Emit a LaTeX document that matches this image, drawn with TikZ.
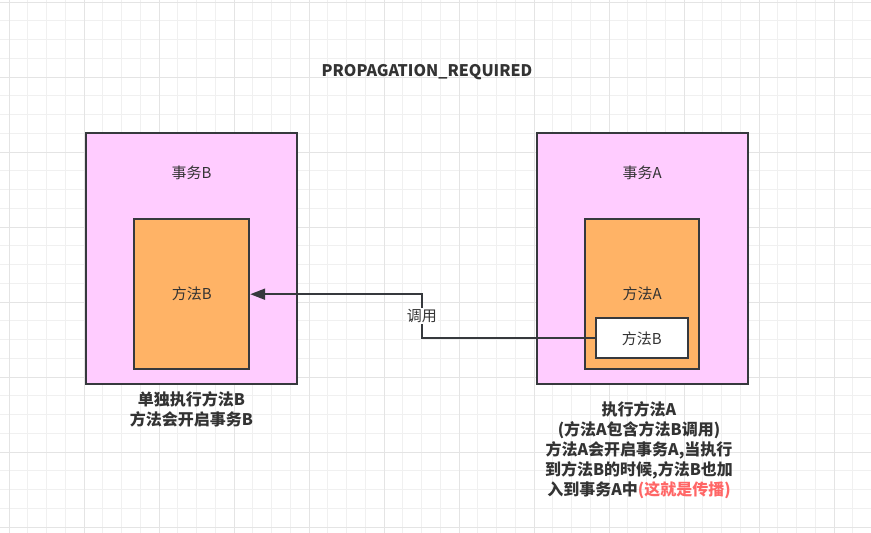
\documentclass[tikz,border=0pt]{standalone}
\usepackage{fontspec}
\setmainfont{Noto Sans CJK SC}
\usetikzlibrary{arrows.meta,positioning,calc}
\definecolor{ink}{HTML}{333333}
\definecolor{edge}{HTML}{36393D}
\definecolor{pinkfill}{HTML}{FFCCFF}
\definecolor{orangefill}{HTML}{FFB366}
\definecolor{hot}{HTML}{FF6666}
\definecolor{gridlo}{HTML}{F0F0F0}
\definecolor{gridhi}{HTML}{E4E4E4}
\tikzset{
  txn/.style={draw=edge,fill=pinkfill,line width=2pt,minimum width=211pt,minimum height=251pt,inner sep=0pt},
  method/.style={draw=edge,fill=#1,line width=2pt,inner sep=0pt,font=\fontsize{15}{18}\selectfont,text=ink},
  plain/.style={font=\fontsize{15}{18}\selectfont,text=ink,inner sep=1pt},
  note/.style={font=\fontsize{16}{20}\selectfont\bfseries,text=ink,align=center,inner sep=0pt},
  flow/.style={-{Triangle[length=15pt,width=11pt]},line width=2pt,draw=edge},
  gridminor/.style={draw=gridlo,line width=0.8pt},
  gridmajor/.style={draw=gridhi,line width=0.9pt}
}

\begin{document}
\begin{tikzpicture}[x=1pt,y=-1pt]
    \useasboundingbox[fill=white] (0,0) rectangle (871,533);

    % background grid
    \foreach \k in {0,...,46} \draw[gridminor] ({9+18.75*\k},0) -- ++(0,533);
    \foreach \k in {0,...,28} \draw[gridminor] (0,{2+18.75*\k}) -- ++(871,0);
    \foreach \k in {0,...,11} \draw[gridmajor] ({9+75*\k},0) -- ++(0,533);
    \foreach \k in {0,...,7} \draw[gridmajor] (0,{2+75*\k}) -- ++(871,0);

    \node[font=\fontsize{16}{19}\selectfont\bfseries,text=ink] (title) at (427,72) {PROPAGATION\_REQUIRED};

    % left: method B alone
    \node[txn] (txB) at (191.5,258.7) {};
    \node[plain] (txBlabel) at (191.5,173) {事务B};
    \node[method=orangefill,minimum width=115pt,minimum height=150pt] (methodB) at (191.7,294.2) {方法B};
    \node[note] (noteB) at (191.5,409) {单独执行方法B\\方法会开启事务B};

    % right: method A calls method B
    \node[txn] (txA) at (642.2,258.8) {};
    \node[plain] (txAlabel) at (642.2,173) {事务A};
    \node[method=orangefill,minimum width=114pt,minimum height=150pt] (methodA) at (642.2,294.2) {方法A};
    \node[method=white,minimum width=92pt,minimum height=40pt] (innerB) at (641.9,338.3) {方法B};
    \node[note] (noteA) at (639,450) {执行方法A\\(方法A包含方法B调用)\\方法A会开启事务A,当执行\\到方法B的时候,方法B也加\\入到事务A中{\color{hot}(这就是传播)}};

    \draw[flow] (innerB.west) -- ++(-173,0) |- (methodB.east)
      node[pos=0.25,plain,fill=white] (call) {调用};
  \end{tikzpicture}
\end{document}
